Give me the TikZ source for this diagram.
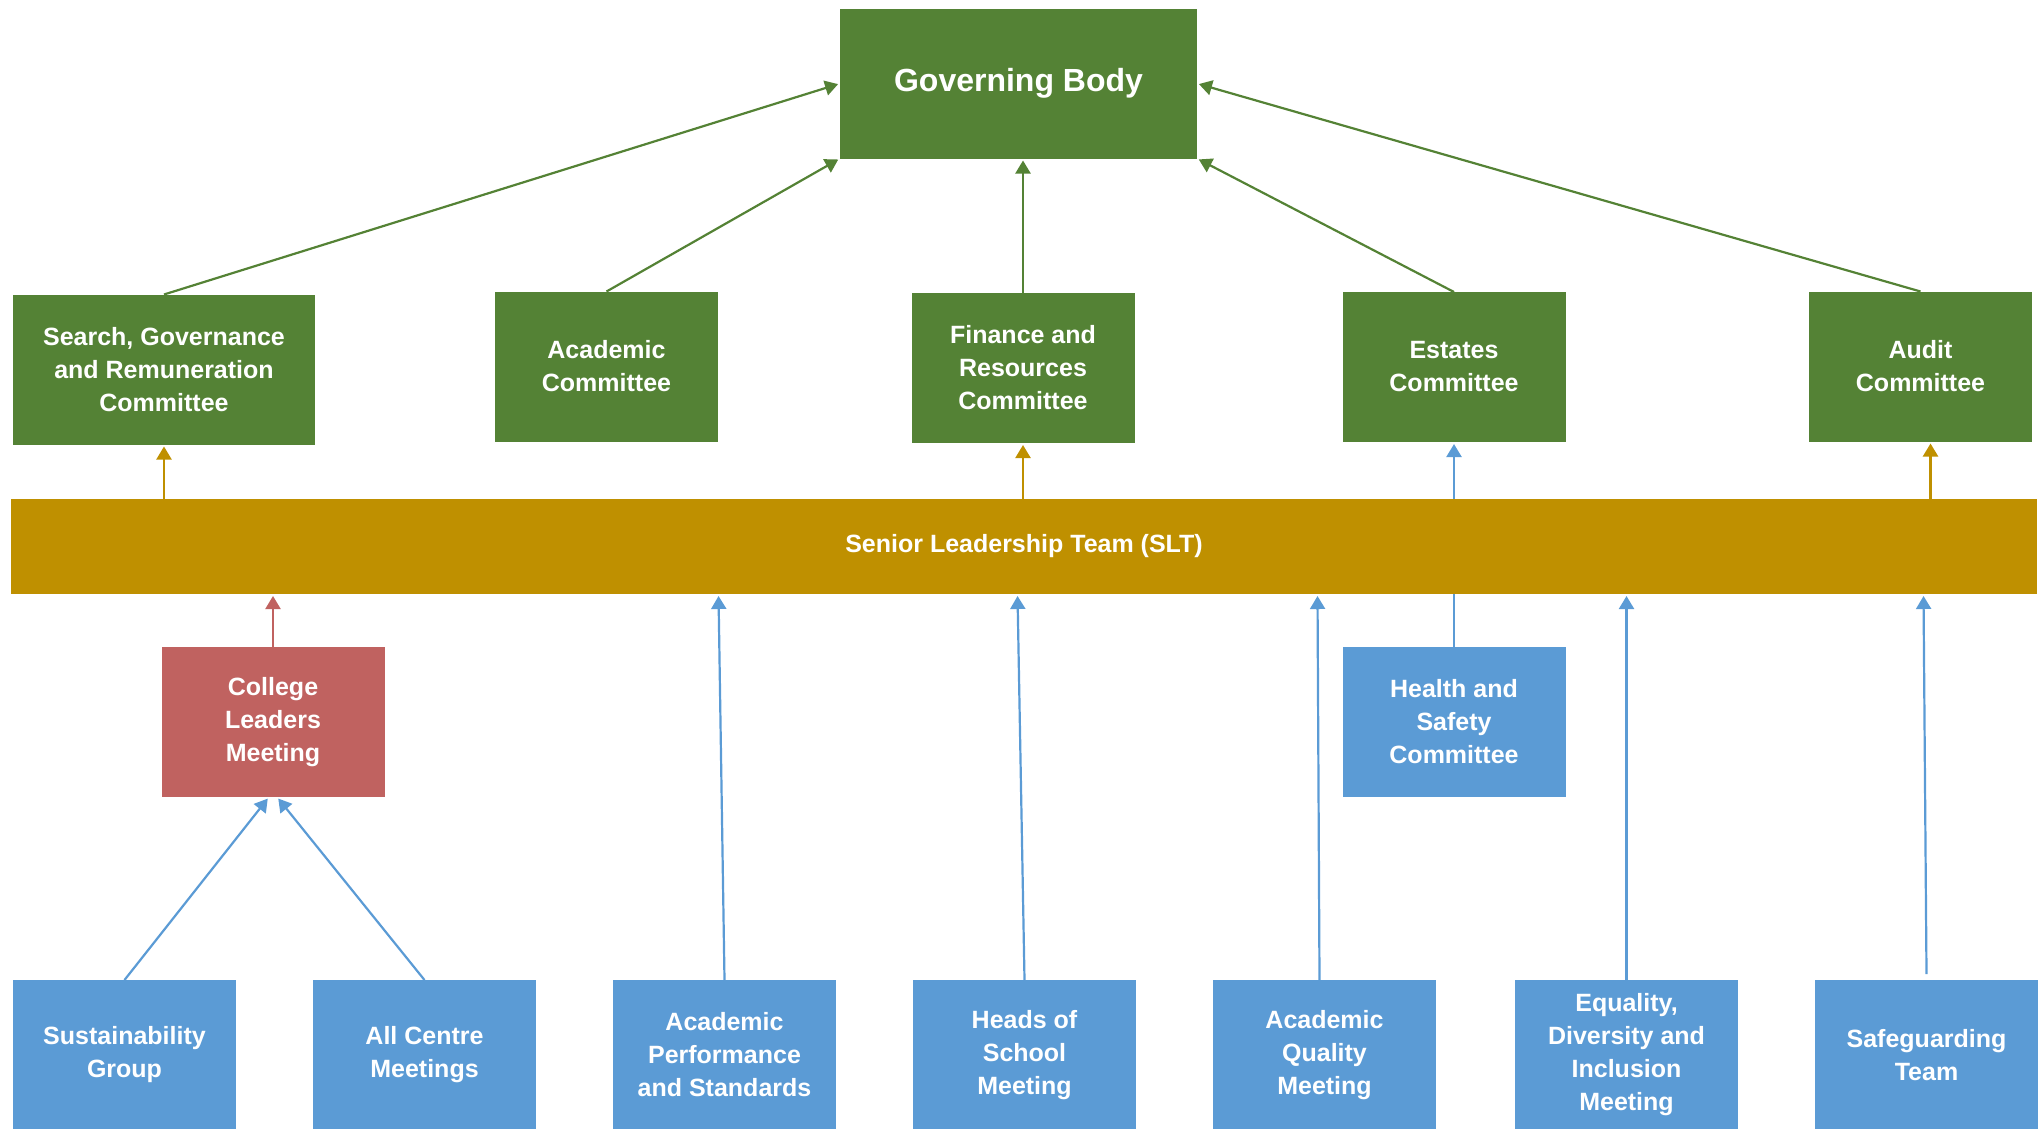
\documentclass[tikz,border=0pt]{standalone}
\usepackage{fontspec}
\setsansfont{Liberation Sans}
\usetikzlibrary{positioning,arrows.meta}
\definecolor{gv}{RGB}{84,130,53}
\definecolor{sl}{RGB}{191,144,0}
\definecolor{cl}{RGB}{192,98,96}
\definecolor{bl}{RGB}{91,155,213}

\begin{document}
\begin{tikzpicture}[
    x=1pt, y=-1pt,
    font=\sffamily\bfseries\fontsize{25}{33}\selectfont,
    b/.style={
        minimum width=223pt, minimum height=150pt,
        inner sep=0pt, outer sep=0pt,
        text=white, align=center
    },
    g/.style={b, fill=gv},
    r/.style={b, fill=cl},
    u/.style={b, fill=bl},
    a/.style={
        line width=2.2pt, shorten >=2pt,
        -{Triangle[length=13pt,width=15pt]}
    },
    lg/.style={a, color=gv},
    ly/.style={a, color=sl},
    lr/.style={a, color=cl},
    lb/.style={a, color=bl}
]
\useasboundingbox (0,0) rectangle (2042,1128);

\node [g, minimum width=357pt, font=\sffamily\bfseries\fontsize{32}{38}\selectfont] (gb) at (1018.5,83.5) {Governing Body};

\node [g, minimum width=302pt] (sgr) at (164,369.5) {Search, Governance\\and Remuneration\\Committee};
\node [g] (acc) at (606.5,366.5) {Academic\\Committee};
\node [g] (frc) at (1023,368) {Finance and\\Resources\\Committee};
\node [g] (esc) at (1454,367) {Estates\\Committee};
\node [g] (auc) at (1920.5,366.5) {Audit\\Committee};

\draw (sgr.north) edge [lg] (gb.west);
\draw (acc.north) edge [lg] (gb.south west);
\draw (frc.north) edge [lg] (frc.north |- gb.south);
\draw (esc.north) edge [lg] (gb.south east);
\draw (auc.north) edge [lg] (gb.east);

\node [r] (clm) at (273,722) {College\\Leaders\\Meeting};
\node [u] (hsc) at (1454,721.5) {Health and\\Safety\\Committee};

\draw (hsc.north) edge [lb] (esc.south);

\node [b, fill=sl, minimum width=2026pt, minimum height=95pt] (slt) at (1024,546.5) {Senior Leadership Team (SLT)};

\draw (sgr.south |- slt.north) edge [ly] (sgr.south);
\draw (frc.south |- slt.north) edge [ly] (frc.south);
\draw ([xshift=10pt]auc.south |- slt.north) edge [ly] ([xshift=10pt]auc.south);
\draw (clm.north) edge [lr] (clm.north |- slt.south);

\node [u] (sug) at (124.5,1055) {Sustainability\\Group};
\node [u, right=77pt of sug] (acm) {All Centre\\Meetings};
\node [u, right=77pt of acm] (aps) {Academic\\Performance\\and Standards};
\node [u, right=77pt of aps] (hos) {Heads of\\School\\Meeting};
\node [u, right=77pt of hos] (aqm) {Academic\\Quality\\Meeting};
\node [u, right=79pt of aqm] (edi) {Equality,\\Diversity and\\Inclusion\\Meeting};
\node [u, right=77pt of edi] (sgt) {Safeguarding\\Team};

\draw (sug.north) edge [lb] ([xshift=-4pt]clm.south);
\draw (acm.north) edge [lb] ([xshift=4pt]clm.south);
\draw (aps.north) edge [lb] ([xshift=-6pt]aps.north |- slt.south);
\draw (hos.north) edge [lb] ([xshift=-7pt]hos.north |- slt.south);
\draw ([xshift=-5pt]aqm.north) edge [lb] ([xshift=-7pt]aqm.north |- slt.south);
\draw (edi.north) edge [lb] (edi.north |- slt.south);
\draw ([yshift=6pt]sgt.north) edge [lb] ([xshift=-3pt]sgt.north |- slt.south);

\end{tikzpicture}
\end{document}
